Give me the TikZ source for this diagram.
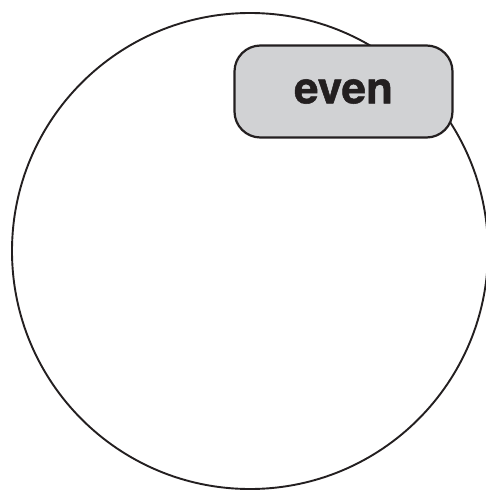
\documentclass[tikz,border=0pt]{standalone}
\usepackage{fontspec}
\newfontfamily\heros[BoldFeatures={FakeBold=1.2}]{TeX Gyre Heros}
\definecolor{boxgray}{HTML}{D1D2D4}
\definecolor{ink}{HTML}{231F20}
\begin{document}
\begin{tikzpicture}[x=1pt,y=-1pt,
  ring/.style={draw=ink,line width=1.9pt},
  label/.style={draw=ink,line width=2.2pt,fill=boxgray,rounded corners=26pt,
    minimum width=218pt,minimum height=92pt,inner sep=0pt,
    font=\heros\bfseries\fontsize{44}{44}\selectfont,text=ink}]
\useasboundingbox (0,0) rectangle (485,490);
\node[ring,circle,minimum size=476pt,inner sep=0pt] (c) at (250,251) {};
\node[label] (even) at (343.5,91.5) {even};
\end{tikzpicture}
\end{document}
